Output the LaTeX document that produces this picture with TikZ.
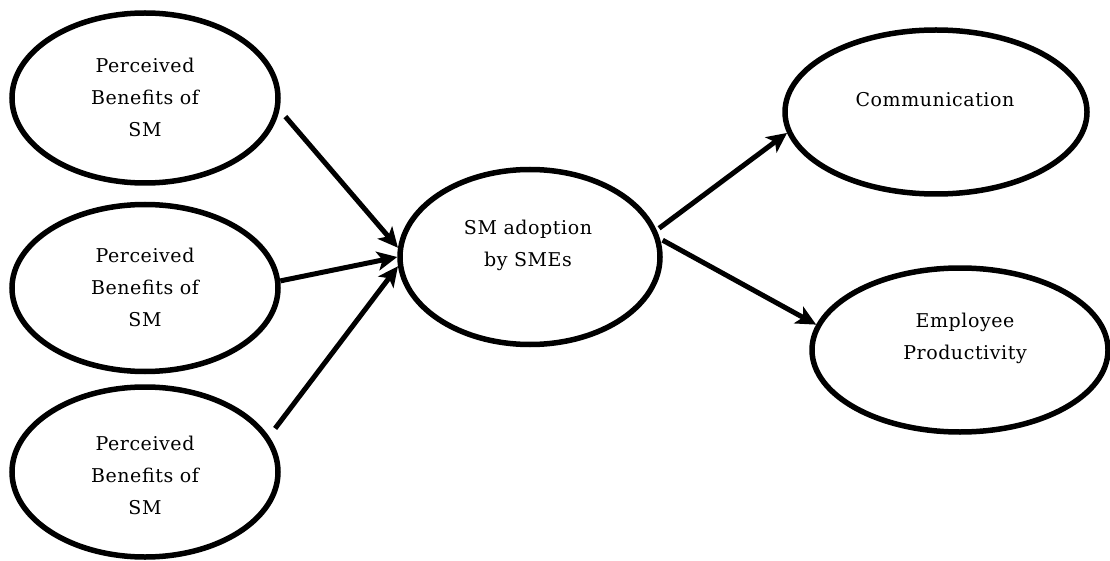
\documentclass[tikz,border=0pt]{standalone}
\usepackage{fontspec}
\setmainfont{DejaVu Serif}[LetterSpace=3]
\usetikzlibrary{arrows.meta,shapes.geometric}
\begin{document}
\begin{tikzpicture}[x=1pt,y=-1pt,
  oval/.style={draw=black,line width=5.5pt,ellipse,inner sep=0pt},
  lbl/.style={align=center,font=\fontsize{19}{32}\selectfont,inner sep=0pt},
  conn/.style={line width=5pt,-{Stealth[length=20pt,width=19pt,inset=5pt]}}]
\useasboundingbox[fill=white] (0,0) rectangle (1110,561);
% ovals
\node[oval,minimum width=266pt,minimum height=170pt] (e1) at (145,98) {};
\node[oval,minimum width=266pt,minimum height=167pt] (e2) at (145,288) {};
\node[oval,minimum width=266pt,minimum height=170pt] (e3) at (145,472) {};
\node[oval,minimum width=260pt,minimum height=175pt] (mid) at (530,257) {};
\node[oval,minimum width=302pt,minimum height=164pt] (comm) at (936,112) {};
\node[oval,minimum width=296pt,minimum height=164pt] (emp) at (960,350) {};
% labels
\node[lbl] (t1) at (145,97) {Perceived\\Benefits of\\SM};
\node[lbl] (t2) at (145,287) {Perceived\\Benefits of\\SM};
\node[lbl] (t3) at (145,475) {Perceived\\Benefits of\\SM};
\node[lbl] (tm) at (528,245) {SM adoption\\by SMEs};
\node[lbl] (tc) at (935,100) {Communication};
\node[lbl] (te) at (965,338) {Employee\\Productivity};
% connectors
\draw[conn,shorten <=9pt] (e1.-5) -- (mid.176);
\draw[conn] (e2.3) -- (mid.180);
\draw[conn,shorten <=10pt] (e3.16) -- (mid.184);
\draw[conn,shorten <=3pt] (mid.12) -- (comm.188);
\draw[conn,shorten <=3pt] (mid.8) -- (emp.170);
\end{tikzpicture}
\end{document}
